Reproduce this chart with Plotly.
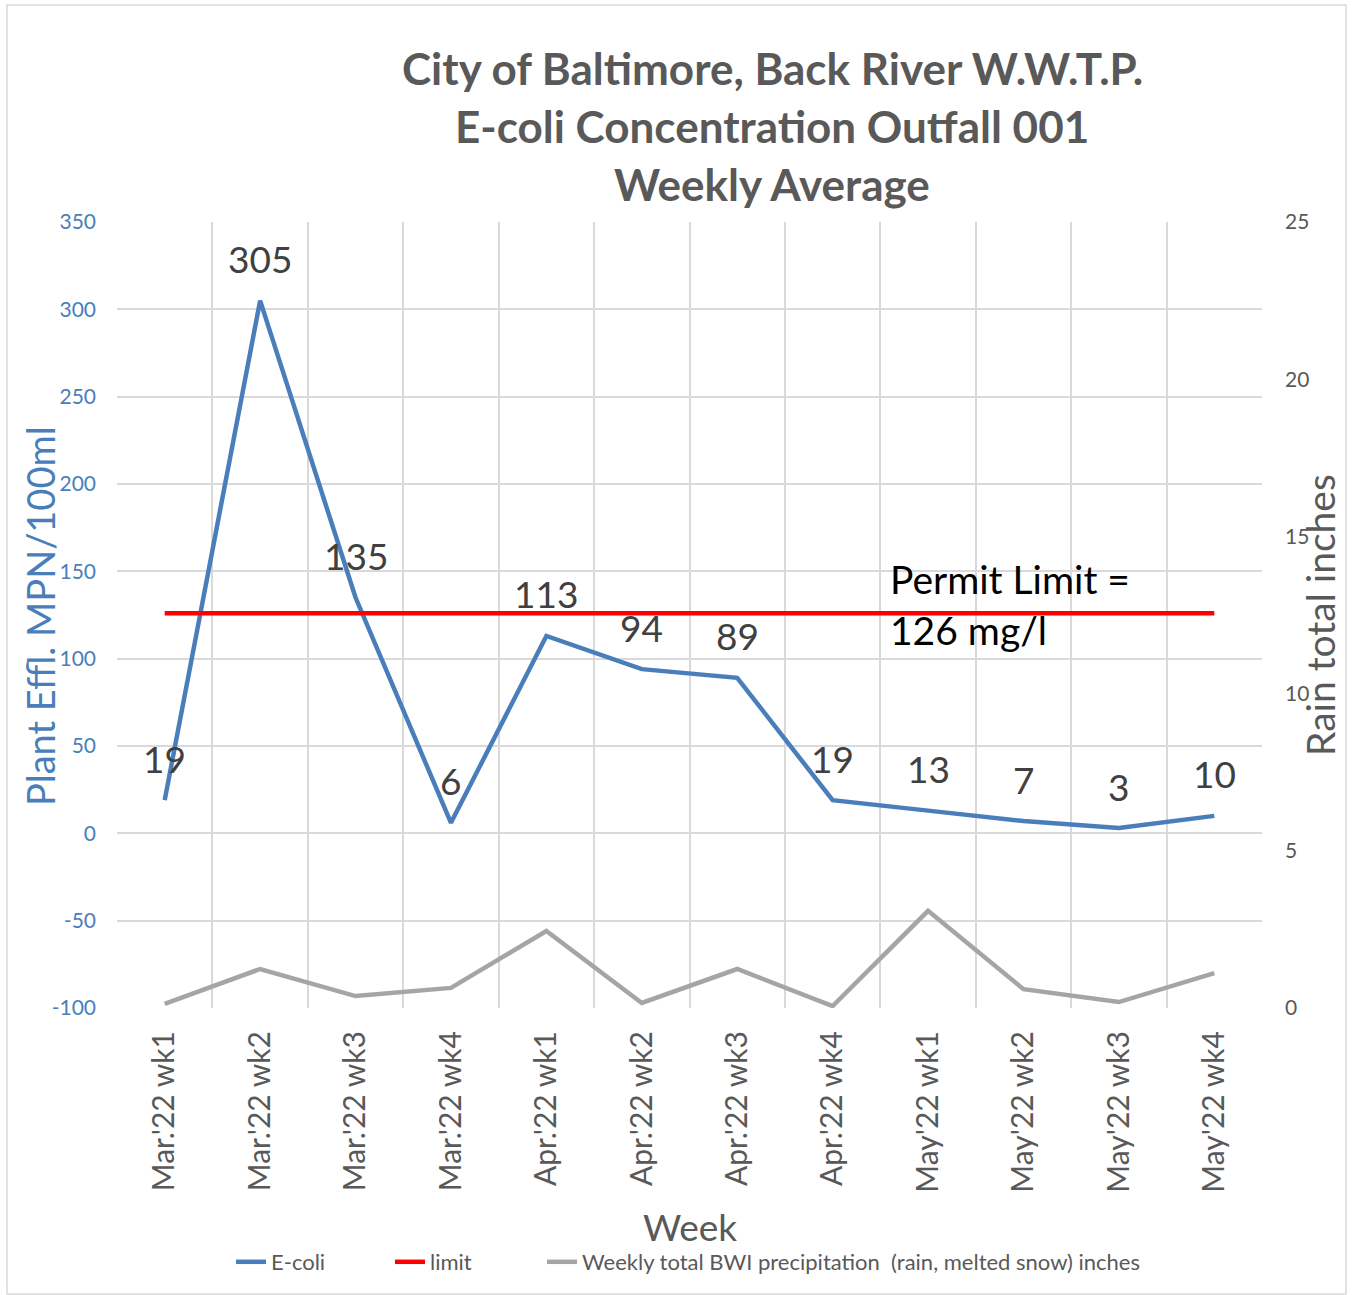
import plotly.graph_objects as go

# data
weeks = ["Mar.'22 wk1", "Mar.'22 wk2", "Mar.'22 wk3", "Mar.'22 wk4",
         "Apr.'22 wk1", "Apr.'22 wk2", "Apr.'22 wk3", "Apr.'22 wk4",
         "May'22 wk1", "May'22 wk2", "May'22 wk3", "May'22 wk4"]
ecoli = [19, 305, 135, 6, 113, 94, 89, 19, 13, 7, 3, 10]
limit = [126] * 12
rain = [0.13, 1.24, 0.38, 0.64, 2.45, 0.16, 1.24, 0.06, 3.09, 0.6, 0.19, 1.11]
left_ticks = [-100, -50, 0, 50, 100, 150, 200, 250, 300, 350]

FONT = "Lato"
GRAY = "#595959"
BLUE = "#4A7EBB"

# plot area in pixels: x 117..1262, y 222..1008
def px_x(p):
    return (p - 117) / 1145

def px_y(p):
    return (1008 - p) / 786

fig = go.Figure()

fig.add_trace(go.Scatter(x=weeks, y=ecoli, name="E-coli", mode="lines",
                         line=dict(color=BLUE, width=4.5), legend="legend"))
fig.add_trace(go.Scatter(x=weeks, y=limit, name="limit", mode="lines",
                         line=dict(color="#FF0000", width=4.5), legend="legend2"))
fig.add_trace(go.Scatter(x=weeks, y=rain, yaxis="y2", mode="lines",
                         name="Weekly total BWI precipitation  (rain, melted snow) inches",
                         line=dict(color="#A5A5A5", width=4.5), legend="legend3"))

# data labels above e-coli points
for w, v in zip(weeks, ecoli):
    fig.add_annotation(x=w, y=v, text=str(v), showarrow=False, yshift=42,
                       xanchor="center", yanchor="middle",
                       font=dict(family=FONT, size=37, color="#404040"))

# permit limit note
fig.add_annotation(x=px_x(888), y=px_y(604), xref="paper", yref="paper",
                   xanchor="left", yanchor="middle",
                   text="Permit Limit =<br>126 mg/l", showarrow=False, align="left",
                   font=dict(family=FONT, size=39, color="#000000"))

# title lines
for i, line in enumerate(["City of Baltimore, Back River W.W.T.P.",
                          "E-coli Concentration Outfall 001",
                          "Weekly Average"]):
    fig.add_annotation(x=px_x(772), y=px_y(68 + 58 * i), xref="paper", yref="paper",
                       xanchor="center", yanchor="middle",
                       text="<b>%s</b>" % line, showarrow=False,
                       font=dict(family=FONT, size=44, color=GRAY))

fig.add_annotation(x=px_x(40), y=px_y(616), xref="paper", yref="paper",
                   xanchor="center", yanchor="middle",
                   text="Plant Effl. MPN/100ml", textangle=-90, showarrow=False,
                   font=dict(family=FONT, size=38, color=BLUE))
fig.add_annotation(x=px_x(1320), y=px_y(615), xref="paper", yref="paper",
                   xanchor="center", yanchor="middle",
                   text="Rain total inches", textangle=-90, showarrow=False,
                   font=dict(family=FONT, size=39, color=GRAY))
fig.add_annotation(x=0.5, y=px_y(1226), xref="paper", yref="paper",
                   xanchor="center", yanchor="middle",
                   text="Week", showarrow=False,
                   font=dict(family=FONT, size=37, color=GRAY))

# outer chart border
fig.add_shape(type="rect", xref="paper", yref="paper",
              x0=px_x(7), x1=px_x(1346), y0=px_y(1294), y1=px_y(5),
              line=dict(color="#D9D9D9", width=1.5))

legend_style = dict(orientation="h", xanchor="left", y=px_y(1262), yanchor="middle",
                    font=dict(size=22, color=GRAY), bgcolor="rgba(0,0,0,0)")

fig.update_layout(
    width=1352, height=1295,
    margin=dict(l=117, r=90, t=222, b=287),
    paper_bgcolor="white", plot_bgcolor="white",
    font=dict(family=FONT, color=GRAY),
    showlegend=True,
    legend=dict(x=px_x(231), **legend_style),
    legend2=dict(x=px_x(390), **legend_style),
    legend3=dict(x=px_x(542), **legend_style),
    xaxis=dict(type="category", range=[-0.5, 11.5], tickson="boundaries", showgrid=True,
               gridcolor="#D9D9D9", gridwidth=1.5, tickangle=-90, ticks="",
               tickfont=dict(size=30, color=GRAY), ticklabelstandoff=16,
               showline=False, zeroline=False),
    yaxis=dict(range=[-100, 350], tickmode="array", tickvals=left_ticks,
               ticktext=[str(t) for t in left_ticks], showgrid=True, gridcolor="#D9D9D9",
               gridwidth=1.5, zeroline=False, ticks="", ticklabelstandoff=20,
               tickfont=dict(size=21, color=BLUE)),
    yaxis2=dict(range=[0, 25], dtick=5, overlaying="y", side="right",
                showgrid=False, zeroline=False, ticks="", ticklabelstandoff=22,
                tickfont=dict(size=21, color=GRAY)),
)

fig.write_html("out.html", config={"displayModeBar": False},
               post_script="document.body.style.margin='0';")
